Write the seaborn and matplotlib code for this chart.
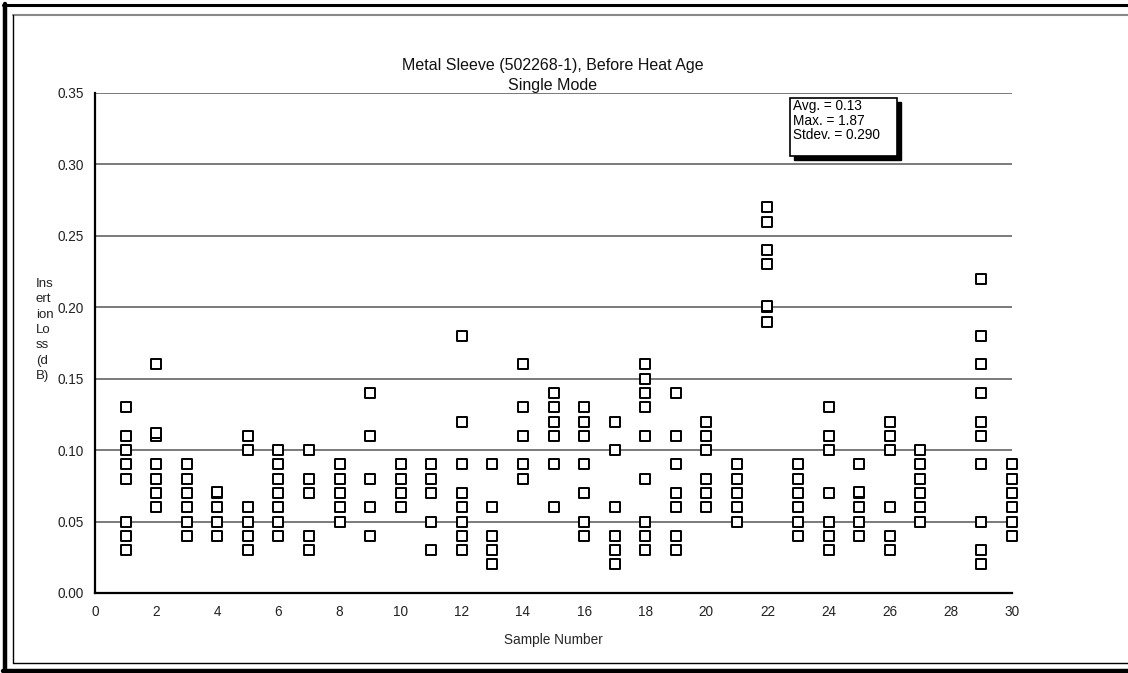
import matplotlib
matplotlib.use("Agg")
import matplotlib.pyplot as plt
from matplotlib.lines import Line2D
from matplotlib.patches import Rectangle
import seaborn as sns
import pandas as pd

# ---- data (insertion loss, dB) per sample number ----
s1 = [0.13, 0.11, 0.10, 0.09, 0.08, 0.05, 0.04, 0.03]
s2 = [0.16, 0.11, 0.112, 0.09, 0.08, 0.07, 0.06]
s3 = [0.09, 0.08, 0.07, 0.06, 0.05, 0.04]
s4 = [0.07, 0.071, 0.06, 0.05, 0.04]
s5 = [0.11, 0.10, 0.06, 0.05, 0.04, 0.03]
s6 = [0.10, 0.09, 0.08, 0.07, 0.06, 0.05, 0.04]
s7 = [0.10, 0.08, 0.07, 0.04, 0.03]
s8 = [0.09, 0.08, 0.07, 0.06, 0.05]
s9 = [0.14, 0.11, 0.08, 0.06, 0.04]
s10 = [0.09, 0.08, 0.07, 0.06]
s11 = [0.09, 0.08, 0.07, 0.05, 0.03]
s12 = [0.18, 0.12, 0.09, 0.07, 0.06, 0.05, 0.04, 0.03]
s13 = [0.09, 0.06, 0.04, 0.03, 0.02]
s14 = [0.16, 0.13, 0.11, 0.09, 0.08]
s15 = [0.14, 0.13, 0.12, 0.11, 0.09, 0.06]
s16 = [0.13, 0.12, 0.11, 0.09, 0.07, 0.05, 0.04]
s17 = [0.12, 0.10, 0.06, 0.04, 0.03, 0.02]
s18 = [0.16, 0.15, 0.14, 0.13, 0.11, 0.08, 0.05, 0.04, 0.03]
s19 = [0.14, 0.11, 0.09, 0.07, 0.06, 0.04, 0.03]
s20 = [0.12, 0.11, 0.10, 0.08, 0.07, 0.06]
s21 = [0.09, 0.08, 0.07, 0.06, 0.05]
s22 = [0.27, 0.26, 0.24, 0.23, 0.20, 0.201, 0.19]
s23 = [0.09, 0.08, 0.07, 0.06, 0.05, 0.04]
s24 = [0.13, 0.11, 0.10, 0.07, 0.05, 0.04, 0.03]
s25 = [0.09, 0.07, 0.071, 0.06, 0.05, 0.04]
s26 = [0.12, 0.11, 0.10, 0.06, 0.04, 0.03]
s27 = [0.10, 0.09, 0.08, 0.07, 0.06, 0.05]
s28 = []
s29 = [0.22, 0.18, 0.16, 0.14, 0.12, 0.11, 0.09, 0.05, 0.03, 0.02]
s30 = [0.09, 0.08, 0.07, 0.06, 0.05, 0.04]

samples = [s1, s2, s3, s4, s5, s6, s7, s8, s9, s10, s11, s12, s13, s14, s15,
           s16, s17, s18, s19, s20, s21, s22, s23, s24, s25, s26, s27, s28, s29, s30]
sample_numbers = list(range(1, 31))

x_ticks = list(range(0, 31, 2))
y_ticks = [0.00, 0.05, 0.10, 0.15, 0.20, 0.25, 0.30, 0.35]

title_text = "Metal Sleeve (502268-1), Before Heat Age\nSingle Mode"
x_label = "Sample Number"
y_label = "Ins\nert\nion\nLo\nss\n(d\nB)"
stats_text = "Avg. = 0.13\nMax. = 1.87\nStdev. = 0.290"

rows = []
for n, vals in zip(sample_numbers, samples):
    for v in vals:
        rows.append({"Sample": n, "Loss": v})
df = pd.DataFrame(rows)

# ---- figure ----
sns.set_style("white")
plt.rcParams["font.family"] = ["Liberation Sans", "DejaVu Sans"]

W, H = 1128, 673
fig = plt.figure(figsize=(W / 100, H / 100), dpi=100)
ax = fig.add_axes([95 / W, 1 - 593 / H, (1012 - 95) / W, (593 - 93) / H])

for yv in y_ticks[1:]:
    ax.axhline(yv, color="#7a7a7a", lw=1.4, zorder=1)

sns.scatterplot(data=df, x="Sample", y="Loss", ax=ax, marker="s", s=42,
                facecolor="white", edgecolor="black", linewidth=1.4,
                zorder=3, legend=False, clip_on=False)

ax.set_xlim(0, 30)
ax.set_ylim(0, 0.35)
ax.set_xticks(x_ticks)
ax.set_yticks(y_ticks)
ax.set_yticklabels([f"{v:.2f}" for v in y_ticks])
ax.tick_params(axis="both", direction="inout", length=8, width=1.3,
               labelsize=9.8, color="black", labelcolor="#222222")
ax.tick_params(axis="x", pad=5)
ax.tick_params(axis="y", pad=4)
for side in ["top", "right"]:
    ax.spines[side].set_visible(False)
ax.spines["left"].set_linewidth(1.6)
ax.spines["bottom"].set_linewidth(1.6)
ax.spines["left"].set_color("black")
ax.spines["bottom"].set_color("black")
ax.set_xlabel(x_label, fontsize=9.8, labelpad=10)
ax.set_ylabel("")

fig.text(553 / W, 1 - 58 / H, title_text, ha="center", va="top",
         fontsize=11.5, linespacing=1.4, color="#111111")
fig.text(36 / W, 1 - 330 / H, y_label, ha="left", va="center",
         fontsize=9.5, linespacing=1.38, color="#222222")

# stats box with shadow
fig.add_artist(Rectangle((794 / W, 1 - 160 / H), 107 / W, 58 / H,
                         transform=fig.transFigure, facecolor="black",
                         edgecolor="black", zorder=5))
fig.add_artist(Rectangle((790 / W, 1 - 156 / H), 107 / W, 58 / H,
                         transform=fig.transFigure, facecolor="white",
                         edgecolor="black", lw=1.2, zorder=6))
fig.text(793 / W, 1 - 99 / H, stats_text, ha="left", va="top",
         fontsize=9.8, linespacing=1.05, color="black", zorder=7)

# outer frame lines
def hline(y, x0, x1, lw, c):
    fig.add_artist(Line2D([x0 / W, x1 / W], [1 - y / H, 1 - y / H],
                          transform=fig.transFigure, color=c, lw=lw))

def vline(x, y0, y1, lw, c):
    fig.add_artist(Line2D([x / W, x / W], [1 - y0 / H, 1 - y1 / H],
                          transform=fig.transFigure, color=c, lw=lw))

hline(5, 3, W, 2.2, "black")
hline(15, 13, W, 1.5, "#888888")
vline(5, 4, 672, 3.2, "black")
vline(13, 15, 663, 1.0, "black")
hline(663, 13, W, 1.0, "black")
hline(670.5, 3, W, 3.2, "black")

fig.savefig("out.png", dpi=100)
